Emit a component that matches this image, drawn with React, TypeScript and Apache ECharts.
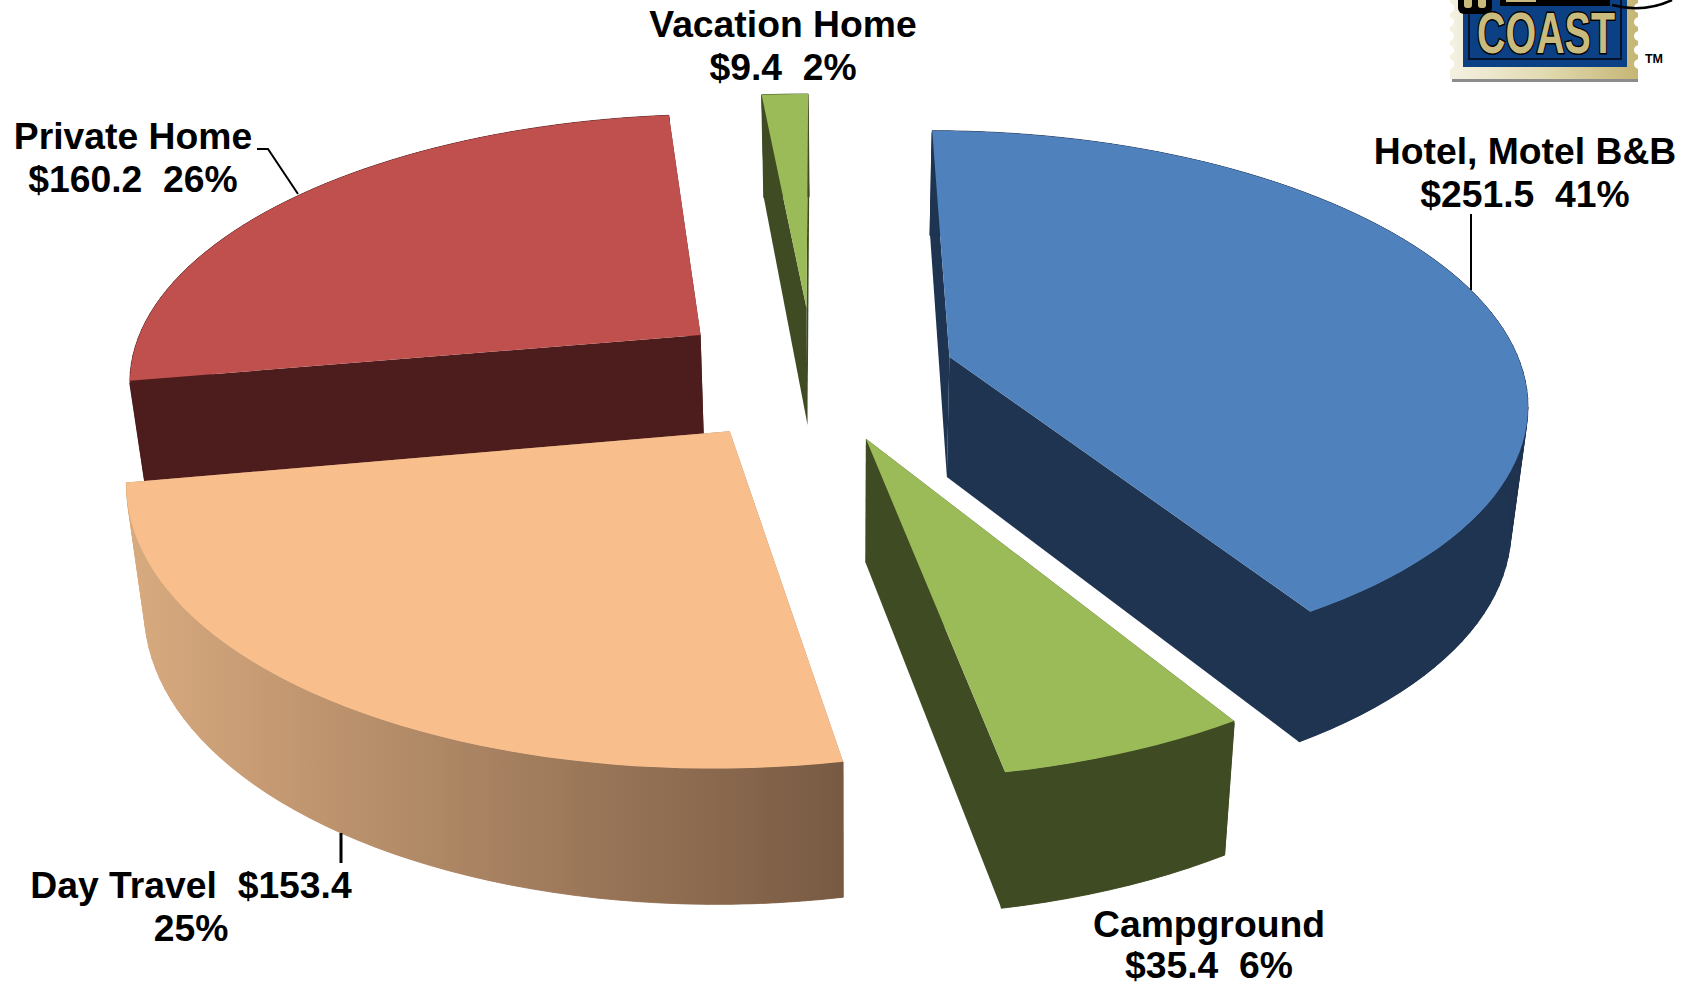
import React, { useEffect, useRef } from "react";
import * as echarts from "echarts";

const categories = ["Hotel, Motel B&B", "Campground", "Day Travel", "Private Home", "Vacation Home"];
const spending = [251.5, 35.4, 153.4, 160.2, 9.4];
const percents = [41, 6, 25, 26, 2];
const labelTexts = [
  "Hotel, Motel B&B\n$251.5  41%",
  "Campground\n$35.4  6%",
  "Day Travel  $153.4\n25%",
  "Private Home\n$160.2  26%",
  "Vacation Home\n$9.4  2%",
];

// Exploded offsets of each slice on the disc, in disc radii.
const explodeX = [0.2287, 0.0781, -0.1512, -0.2117, -0.0234];
const explodeV = [-0.0412, 0.2598, 0.2332, -0.1254, -0.2336];
const topColors = ["#4f81bd", "#9bbb59", "#f8bf8d", "#c0504d", "#9bbb59"];
const sideColors = ["#1f3450", "#3f4c23", "#a67f5f", "#4d1d1d", "#3f4c23"];
const labelCentres = [[1525, 172], [1209, 944.5], [191, 906], [133, 157], [783, 45]];
const labelLineHeights = [43, 41, 43, 43, 43];
const drawOrder = [3, 4, 0, 1, 2];

const CX = 819.4, CY = 367.5, RX = 572, RY = 263.7, K = 0.1534, DEPTH = 121;

function project(wx: number, wv: number) {
  const s = 1 / (1 - K * wv);
  return { x: CX + RX * wx * s, y: CY + RY * wv * s, s };
}
function lower(p: { x: number; y: number; s: number }) {
  const exponent = p.s < 1 ? 0.95 : 0.55;
  return { x: p.x + (849 - p.x) * 0.025, y: p.y + DEPTH * Math.pow(p.s, exponent), s: p.s };
}
const pt = (p: { x: number; y: number }) => [p.x, p.y];

const dayRimGradient: any = {
  type: "linear",
  global: true,
  x: 130,
  y: 0,
  x2: 842,
  y2: 0,
  colorStops: [
    { offset: 0, color: "#d8aa7f" },
    { offset: 1, color: "#785a43" },
  ],
};

function renderSlice(params: any, api: any) {
  const i = api.value(0);
  const total = spending.reduce((a, b) => a + b, 0);
  let before = 0;
  for (let j = 0; j < i; j++) before += spending[j];
  const a0 = (before / total) * Math.PI * 2;
  const a1 = ((before + api.value(1)) / total) * Math.PI * 2;
  const steps = Math.max(4, Math.ceil((a1 - a0) * 30));
  const arc: any[] = [];
  for (let n = 0; n <= steps; n++) {
    const a = a0 + ((a1 - a0) * n) / steps;
    arc.push(project(explodeX[i] + Math.sin(a), explodeV[i] - Math.cos(a)));
  }
  const apex = project(explodeX[i], explodeV[i]);
  const apexLow = lower(apex);
  const arcLow = arc.map(lower);
  const side = sideColors[i];
  const rimFill: any = i === 2 ? dayRimGradient : side;
  const poly = (points: number[][], fill: any, seam?: any) => ({
    type: "polygon",
    shape: { points },
    style: seam ? { fill, stroke: seam, lineWidth: 0.8 } : { fill, stroke: "none" },
  });
  const first = arc[0], last = arc[arc.length - 1];
  const firstLow = arcLow[0], lastLow = arcLow[arcLow.length - 1];
  // Swept quads give the tangent silhouette; the whole strip above them hides their seams.
  const rim = arc.slice(0, -1).map((p: any, n: number) =>
    poly([pt(p), pt(arc[n + 1]), pt(arcLow[n + 1]), pt(arcLow[n])], rimFill, rimFill)
  );
  const edgeSeams =
    i === 2 || i === 4
      ? []
      : [
          [first, firstLow],
          [last, lastLow],
        ].map(([a, b]) => ({
          type: "line",
          shape: { x1: a.x, y1: a.y + 2, x2: b.x, y2: b.y - 0.5 },
          style: { stroke: side, lineWidth: 1.2 },
        }));
  return {
    type: "group",
    children: [
      poly([pt(apex), pt(first), pt(firstLow), pt(apexLow)], side),
      poly([pt(apex), pt(last), pt(lastLow), pt(apexLow)], side),
      ...rim,
      poly([...arc.map(pt), ...arcLow.slice().reverse().map(pt)], rimFill),
      ...edgeSeams,
      poly([pt(apex), ...arc.map(pt)], topColors[i]),
    ],
  };
}

const perforationYs = [8, 22, 36, 50, 64];
const logoChildren: any[] = [
  { type: "rect", shape: { x: 1452, y: -10, width: 186, height: 92 }, style: { fill: "#8c8c8c" } },
  {
    type: "rect",
    shape: { x: 1450, y: -10, width: 188, height: 89 },
    style: {
      fill: {
        type: "linear",
        x: 0,
        y: 0,
        x2: 1,
        y2: 0,
        colorStops: [
          { offset: 0, color: "#f4f1e2" },
          { offset: 0.5, color: "#e2dab0" },
          { offset: 1, color: "#c6b675" },
        ],
      },
    },
  },
  ...perforationYs.flatMap((y) => [
    { type: "circle", shape: { cx: 1449, cy: y, r: 5 }, style: { fill: "#ffffff" } },
    { type: "circle", shape: { cx: 1639, cy: y, r: 5 }, style: { fill: "#ffffff" } },
  ]),
  { type: "rect", shape: { x: 1463, y: -10, width: 164, height: 77 }, style: { fill: "#0b4184" } },
  {
    type: "rect",
    shape: { x: 1469, y: -10, width: 152, height: 69 },
    style: { fill: "#0b4184", stroke: "#04122a", lineWidth: 2 },
  },
  { type: "rect", shape: { x: 1458, y: -6, width: 34, height: 20, r: 6 }, style: { fill: "#000000" } },
  { type: "rect", shape: { x: 1464, y: -6, width: 8, height: 14, r: 3 }, style: { fill: "#c9ba7d" } },
  { type: "rect", shape: { x: 1478, y: -6, width: 8, height: 14, r: 3 }, style: { fill: "#c9ba7d" } },
  { type: "rect", shape: { x: 1500, y: -6, width: 110, height: 12 }, style: { fill: "#000000" } },
  { type: "rect", shape: { x: 1506, y: -6, width: 30, height: 8 }, style: { fill: "#c9ba7d" } },
  { type: "rect", shape: { x: 1574, y: -6, width: 22, height: 6 }, style: { fill: "#c9ba7d" } },
  {
    type: "text",
    x: 1546,
    y: 33,
    scaleX: 0.68,
    style: {
      text: "COAST",
      fill: "#c9ba7d",
      stroke: "#000000",
      lineWidth: 3,
      font: "bold 58px 'Liberation Sans Narrow', 'Liberation Sans'",
      align: "center",
      verticalAlign: "middle",
    },
  },
  {
    type: "bezierCurve",
    shape: { x1: 1612, y1: 5, x2: 1672, y2: 0, cpx1: 1635, cpy1: 11, cpx2: 1655, cpy2: 8 },
    style: { stroke: "#000000", lineWidth: 2.5, fill: "none" },
  },
  {
    type: "text",
    x: 1654,
    y: 59,
    style: {
      text: "TM",
      fill: "#000000",
      font: "bold 12.5px 'Liberation Sans'",
      align: "center",
      verticalAlign: "middle",
    },
  },
];

const leaderLines: { points: number[][]; width: number }[] = [
  { points: [[257, 149], [268, 149], [298, 194]], width: 2 },
  { points: [[1471, 214], [1471, 290]], width: 2 },
  { points: [[341, 833], [341, 863]], width: 3 },
];

export default function App() {
  const ref = useRef<HTMLDivElement>(null);
  useEffect(() => {
    const chart = echarts.init(ref.current!, undefined, { renderer: "svg" });
    chart.setOption({
      animation: false,
      backgroundColor: "#ffffff",
      series: [
        {
          type: "custom",
          coordinateSystem: "none",
          renderItem: renderSlice,
          data: drawOrder.map((i) => ({ name: categories[i], value: [i, spending[i], percents[i]] })),
          silent: true,
          animation: false,
        },
      ],
      graphic: [
        ...logoChildren,
        ...leaderLines.map((l) => ({
          type: "polyline",
          shape: { points: l.points },
          style: { stroke: "#000000", lineWidth: l.width, fill: "none" },
          z: 10,
        })),
        ...labelTexts.map((t, i) => ({
          type: "text",
          x: labelCentres[i][0],
          y: labelCentres[i][1],
          z: 10,
          style: {
            text: t,
            fill: "#000000",
            font: "bold 37.3px 'Liberation Sans', Arial, sans-serif",
            lineHeight: labelLineHeights[i],
            align: "center",
            verticalAlign: "middle",
          },
        })),
      ],
    });
    return () => chart.dispose();
  }, []);
  return (
    <div
      ref={ref}
      style={{ position: "fixed", left: 0, top: 0, width: 1695, height: 985, background: "#fff" }}
    />
  );
}
